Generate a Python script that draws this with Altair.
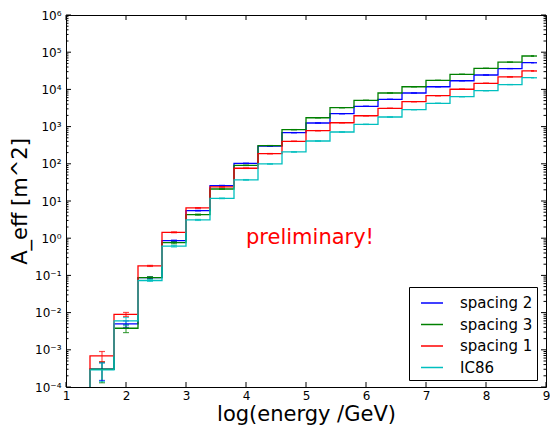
import altair as alt
import pandas as pd

# ---------------- data ----------------
centers = [1.2, 1.6, 2.0, 2.4, 2.8, 3.2, 3.6, 4.0, 4.4, 4.8, 5.2, 5.6, 6.0,
           6.4, 6.8, 7.2, 7.6, 8.0, 8.4, 8.8]
series_names = ["spacing 2", "spacing 3", "spacing 1", "IC86"]
series_colors = ["#0000ff", "#008000", "#ff0000", "#00bfbf"]

aeff_spacing2 = [0, 3.0e-4, 5.0e-3, 0.087, 0.86, 5.5, 26, 103, 297, 686, 1250,
                 2220, 3510, 5410, 8000, 11800, 17100, 24400, 36300, 52200]
aeff_spacing3 = [0, 3.0e-4, 3.8e-3, 0.087, 0.76, 4.3, 21, 91, 307, 826, 1730,
                 3220, 5090, 8000, 11800, 17500, 25500, 36900, 54000, 79000]
aeff_spacing1 = [0, 6.9e-4, 9.0e-3, 0.18, 1.44, 6.5, 24, 76, 187, 403, 776,
                 1270, 1960, 3100, 4670, 6770, 10100, 14600, 21700, 31300]
aeff_ic86 = [0, 2.9e-4, 6.0e-3, 0.073, 0.61, 3.1, 11.8, 37, 99, 208, 410,
             716, 1150, 1810, 2850, 4230, 6370, 9230, 13500, 20600]

err_spacing2 = [0, 1.5e-4, 1.0e-3, 4e-3, 0.03, 0.12, 0.4, 1.2, 3, 6, 10,
                15, 22, 30, 40, 55, 75, 100, 140, 190]
err_spacing3 = [0, 1.7e-4, 9e-4, 6e-3, 0.05, 0.15, 0.45, 1.3, 3, 7, 12,
                18, 26, 35, 48, 65, 90, 120, 170, 240]
err_spacing1 = [0, 2.1e-4, 1.1e-3, 6e-3, 0.04, 0.15, 0.4, 1.0, 2.2, 4, 7,
                10, 14, 19, 26, 35, 48, 65, 90, 120]
err_ic86 = [0, 1.5e-4, 1.4e-3, 4e-3, 0.03, 0.1, 0.25, 0.7, 1.5, 3, 5,
            7, 10, 14, 19, 26, 35, 45, 60, 80]

x_ticks = [1, 2, 3, 4, 5, 6, 7, 8, 9]
y_major = [1e-4, 1e-3, 1e-2, 1e-1, 1e0, 1e1, 1e2, 1e3, 1e4, 1e5, 1e6]
y_tick_labels = ["10\u207b\u2074", "10\u207b\u00b3", "10\u207b\u00b2", "10\u207b\u00b9",
                 "10\u2070", "10\u00b9", "10\u00b2", "10\u00b3", "10\u2074",
                 "10\u2075", "10\u2076"]
minor_mult = [2, 3, 4, 5, 6, 7, 8, 9]
y_minor = [m * d for d in y_major[:-1] for m in minor_mult]

note_x = [4.0]
note_y = [0.69]
note_text = ["preliminary!"]

Y_MIN, Y_MAX = 1e-4, 1e6
X_MIN, X_MAX = 1, 9

# ---------------- tables ----------------
rows = []
for name, vals, errs in zip(series_names,
                            [aeff_spacing2, aeff_spacing3, aeff_spacing1, aeff_ic86],
                            [err_spacing2, err_spacing3, err_spacing1, err_ic86]):
    for c, v, e in zip(centers, vals, errs):
        rows.append({"x": c, "series": name, "v": v, "err": e})
df = pd.DataFrame(rows)
# non-positive bins are pushed below the axis (clipped), like matplotlib
df["disp"] = df["v"].where(df["v"] > 0, Y_MIN / 10)
df_err = df[df["v"] > 0].copy()
df_err["lo"] = df_err["v"] - df_err["err"]
df_err["hi"] = df_err["v"] + df_err["err"]

FONT = "DejaVu Sans"
label_expr = "[" + ",".join("'%s'" % s for s in y_tick_labels) + "][round(log(datum.value)/LN10)+4]"

W, H = 480, 372

xscale = alt.Scale(domain=[X_MIN, X_MAX], nice=False, zero=False)
yscale = alt.Scale(type="log", domain=[Y_MIN, Y_MAX], nice=False)
xaxis = alt.Axis(values=x_ticks, format="d", ticks=False, domain=False, grid=False,
                 labelFlush=False, labelPadding=3, labelFontSize=12, labelFont=FONT,
                 labelColor="black", title="log(energy /GeV)", titleFont=FONT,
                 titleFontSize=21, titleFontWeight="normal", titleColor="black",
                 titleX=W / 2, titleY=33, titleBaseline="alphabetic", titleAlign="center")
yaxis = alt.Axis(values=y_major, labelExpr=label_expr, ticks=False, domain=False,
                 grid=False, labelFlush=False, labelPadding=5, labelFontSize=12,
                 labelFont=FONT, labelColor="black", title="A_eff [m^2]",
                 titleFont=FONT, titleFontSize=21, titleFontWeight="normal",
                 titleColor="black", titleAngle=270, titleX=-40, titleY=H / 2,
                 titleBaseline="alphabetic", titleAlign="center")

legend = alt.Legend(title=None, orient="none", legendX=343, legendY=272,
                    strokeColor="black", fillColor="white", padding=4,
                    cornerRadius=0, symbolType="stroke", symbolSize=484,
                    symbolStrokeWidth=1.5, symbolOpacity=1, symbolOffset=7,
                    labelFont=FONT, labelFontSize=15, labelColor="black",
                    labelOffset=16, rowPadding=1.5)
color = alt.Color("series:N", scale=alt.Scale(domain=series_names, range=series_colors),
                  legend=legend)


def X(field):
    return alt.X(field, type="quantitative", scale=xscale, axis=xaxis)


def Y(field):
    return alt.Y(field, type="quantitative", scale=yscale, axis=yaxis)


base_err = alt.Chart(df_err)
err_rules = base_err.mark_rule(strokeWidth=1.2, opacity=0.7).encode(
    x=X("x"), y=Y("lo"), y2="hi", color=color)
err_caps = base_err.transform_fold(["lo", "hi"], as_=["end", "yv"]).mark_tick(
    orient="horizontal", size=6, thickness=1.2, opacity=0.7).encode(
    x=X("x"), y=Y("yv:Q"), color=color)

lines = alt.Chart(df).mark_line(interpolate="step", strokeWidth=1.3, clip=True).encode(
    x=X("x"), y=Y("disp"), color=color, order=alt.Order("x:Q"))

note = alt.Chart(pd.DataFrame({"x": note_x, "y": note_y, "t": note_text})).mark_text(
    align="left", baseline="alphabetic", fontSize=21, font=FONT, color="#ff0000").encode(
    x=X("x"), y=Y("y"), text="t:N")

# inward tick marks (matplotlib classic style)
ymaj = alt.Chart(pd.DataFrame({"v": y_major}))
ymin = alt.Chart(pd.DataFrame({"v": y_minor}))
xmaj = alt.Chart(pd.DataFrame({"v": x_ticks}))
tk = dict(color="black", strokeWidth=1)
tick_layers = [
    ymaj.mark_rule(**tk).encode(y=Y("v"), x=alt.value(0), x2=alt.value(5)),
    ymaj.mark_rule(**tk).encode(y=Y("v"), x=alt.value(W), x2=alt.value(W - 5)),
    ymin.mark_rule(**tk).encode(y=Y("v"), x=alt.value(0), x2=alt.value(2.5)),
    ymin.mark_rule(**tk).encode(y=Y("v"), x=alt.value(W), x2=alt.value(W - 2.5)),
    xmaj.mark_rule(**tk).encode(x=X("v"), y=alt.value(H), y2=alt.value(H - 5)),
    xmaj.mark_rule(**tk).encode(x=X("v"), y=alt.value(0), y2=alt.value(5)),
]

chart = alt.layer(err_rules, err_caps, lines, note, *tick_layers).properties(
    width=W, height=H,
    autosize=alt.AutoSizeParams(type="none"),
    padding={"left": 66, "top": 15, "right": 4, "bottom": 39},
    background="white",
).configure_view(stroke="black", strokeWidth=1)

chart.save("out.html", embed_options={"renderer": "svg", "actions": False})
